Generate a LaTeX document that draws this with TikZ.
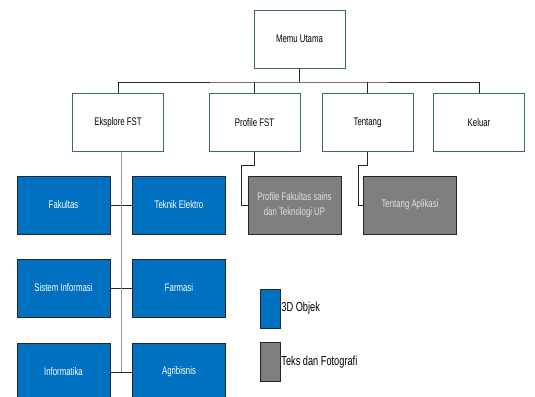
\documentclass[tikz,border=0pt]{standalone}
\usepackage{fontspec}
\setmainfont[FakeStretch=0.71]{Liberation Sans}
\definecolor{teal}{HTML}{3A6B66}
\definecolor{objblue}{HTML}{0070C0}
\definecolor{fotogray}{HTML}{7F7F7F}
\definecolor{edgedark}{HTML}{262626}

\begin{document}
\begin{tikzpicture}[x=1pt,y=-1pt,font=\fontsize{11}{15}\selectfont]

        \useasboundingbox (0,0) rectangle (535,396);

        \begin{scope}[every node/.style={draw=teal,thick,fill=white,minimum width=91pt,minimum height=58pt,inner sep=0pt}]
          \node (menu)     at (299.5,39)  {Memu Utama};
          \node (eksplore) at (118,122.5) {Eksplore FST};
          \node (profile)  at (254.5,122.5) {Profile FST};
          \node (tentang)  at (367.5,122.5) {Tentang};
          \node (keluar)   at (479,122.5) {Keluar};
        \end{scope}

        \begin{scope}[every node/.style={draw=edgedark,thick,fill=objblue,text=white,minimum width=93pt,minimum height=58pt,inner sep=0pt}]
          \node (fakultas) at (63.5,205) {Fakultas};
          \node (teknik)   at (179,205)  {Teknik Elektro};
          \node (sistem)   at (63.5,288) {Sistem Informasi};
          \node (farmasi)  at (179,288)  {Farmasi};
          \node (informatika) at (63.5,372) {Informatika};
          \node (agribisnis)  at (179,372)  {Agribisnis};
        \end{scope}

        \begin{scope}[every node/.style={draw=edgedark,thick,fill=fotogray,text=white!88!black,minimum width=93pt,minimum height=58pt,inner sep=0pt,align=center}]
          \node (pfak)  at (294.5,205) {Profile Fakultas sains\\dan Teknologi UP};
          \node (aplik) at (410,205)   {Tentang Aplikasi};
        \end{scope}

        % legend
        \begin{scope}[every node/.style={draw=edgedark,minimum width=20pt,minimum height=39pt,inner sep=0pt}]
          \node[fill=objblue]  (key3d)   at (270,308.5) {};
          \node[fill=fotogray] (keyfoto) at (270,362)   {};
        \end{scope}
        \node[anchor=west,inner sep=1pt,font=\fontsize{13}{15}\selectfont] (lab3d)   at (key3d.east)   {3D Objek};
        \node[anchor=west,inner sep=1pt,font=\fontsize{13}{15}\selectfont] (labfoto) at (keyfoto.east) {Teks dan Fotografi};

        % connectors
        \coordinate (bus) at (299.5,82);
        \begin{scope}[every path/.style={draw=edgedark,thick}]
          \path (menu.south) -- (bus);
          \path (eksplore.north) |- (bus) -| (keluar.north);
          \path (profile.north) -- (profile.north |- bus);
          \path (tentang.north) -- (tentang.north |- bus);

          \path (fakultas) -- (teknik) coordinate[midway] (j1);
          \path (sistem) -- (farmasi) coordinate[midway] (j2);
          \path (informatika) -- (agribisnis) coordinate[midway] (j3);

          \path (profile.south) -- ++(0,13) -| ([xshift=-6pt]pfak.west) -- (pfak.west);
          \path (tentang.south) -- ++(0,13) -| ([xshift=-5pt]aplik.west) -- (aplik.west);
        \end{scope}
        \draw[gray!80,thick] (j3) -- (j3 |- eksplore.south);

      \end{tikzpicture}
\end{document}
